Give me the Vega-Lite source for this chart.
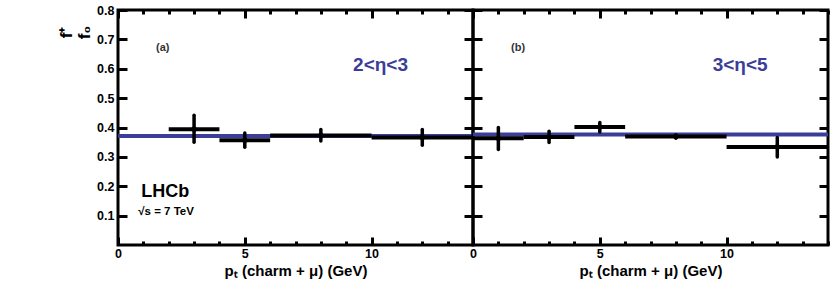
{
  "$schema": "https://vega.github.io/schema/vega-lite/v6.json",
  "padding": {"left": 55, "top": 2, "right": 0, "bottom": 0},
  "spacing": 0,
  "bounds": "flush",
  "datasets": {
    "a": [
      {"lo": 2, "hi": 4, "xc": 3, "y": 0.394, "ylo": 0.350, "yhi": 0.442},
      {"lo": 4, "hi": 6, "xc": 5, "y": 0.357, "ylo": 0.333, "yhi": 0.381},
      {"lo": 6, "hi": 10, "xc": 8, "y": 0.373, "ylo": 0.354, "yhi": 0.393},
      {"lo": 10, "hi": 14, "xc": 12, "y": 0.366, "ylo": 0.340, "yhi": 0.393}
    ],
    "b": [
      {"lo": 0, "hi": 2, "xc": 1, "y": 0.363, "ylo": 0.325, "yhi": 0.400},
      {"lo": 2, "hi": 4, "xc": 3, "y": 0.368, "ylo": 0.349, "yhi": 0.387},
      {"lo": 4, "hi": 6, "xc": 5, "y": 0.402, "ylo": 0.385, "yhi": 0.417},
      {"lo": 6, "hi": 10, "xc": 8, "y": 0.369, "ylo": 0.363, "yhi": 0.375},
      {"lo": 10, "hi": 14, "xc": 12, "y": 0.334, "ylo": 0.300, "yhi": 0.366}
    ]
  },
  "config": {
    "font": "Liberation Sans",
    "view": {"stroke": "black", "strokeWidth": 3},
    "axis": {
      "domain": false,
      "grid": false,
      "tickColor": "black",
      "tickWidth": 3,
      "labelFont": "Liberation Sans",
      "labelFontWeight": "bold",
      "labelFontSize": 12.5,
      "labelColor": "black",
      "labelFlush": false,
      "labelOverlap": false,
      "titleFont": "Liberation Sans",
      "titleColor": "black"
    }
  },
  "hconcat": [
    {
      "width": 355,
      "height": 235,
      "data": {"name": "a"},
      "layer": [
        {
          "data": {"values": [{"fit": 0.371}]},
          "mark": {"type": "rule", "color": "#3b3d98", "strokeWidth": 4},
          "encoding": {
            "y": {"field": "fit", "type": "quantitative", "scale": {"domain": [0, 0.8], "nice": false},
              "axis": {"orient": "left", "values": [0.1, 0.2, 0.3, 0.4, 0.5, 0.6, 0.7, 0.8], "format": ".1f", "tickSize": -9, "labelPadding": 13,
                "title": ["f⁺", "f₀"], "titleAngle": 270, "titleX": -52, "titleY": 22, "titleAlign": "center", "titleBaseline": "middle", "titleFontSize": 17, "titleFontWeight": "bold", "titleLineHeight": 18}}
          }
        },
        {
          "mark": {"type": "rule", "color": "black", "strokeWidth": 4},
          "encoding": {
            "x": {"field": "lo", "type": "quantitative", "scale": {"domain": [0, 14], "nice": false},
              "axis": {"orient": "bottom", "values": [0, 1, 2, 3, 4, 5, 6, 7, 8, 9, 10, 11, 12, 13, 14],
                "tickSize": {"condition": {"test": "datum.value % 5 === 0", "value": -8}, "value": -4},
                "labelExpr": "datum.value % 5 === 0 ? datum.label : ''", "labelPadding": 10,
                "title": "pₜ (charm + μ) (GeV)", "titleFontSize": 15, "titleFontWeight": "bold", "titlePadding": 0}},
            "x2": {"field": "hi"},
            "y": {"field": "y", "type": "quantitative", "scale": {"domain": [0, 0.8], "nice": false},
              "axis": {"orient": "right", "values": [0.1, 0.2, 0.3, 0.4, 0.5, 0.6, 0.7, 0.8], "tickSize": -9, "labels": false, "title": null}}
          }
        },
        {
          "mark": {"type": "rule", "color": "black", "strokeWidth": 3.5, "strokeCap": "round"},
          "encoding": {
            "x": {"field": "xc", "type": "quantitative", "scale": {"domain": [0, 14], "nice": false},
              "axis": {"orient": "top", "values": [0, 1, 2, 3, 4, 5, 6, 7, 8, 9, 10, 11, 12, 13, 14],
                "tickSize": {"condition": {"test": "datum.value % 5 === 0", "value": -8}, "value": -4},
                "labels": false, "title": null}},
            "y": {"field": "ylo", "type": "quantitative", "scale": {"domain": [0, 0.8], "nice": false}, "axis": null},
            "y2": {"field": "yhi"}
          }
        },
        {
          "mark": {"type": "point", "filled": true, "size": 30, "color": "black", "opacity": 1},
          "encoding": {
            "x": {"field": "xc", "type": "quantitative", "axis": null},
            "y": {"field": "y", "type": "quantitative", "axis": null}
          }
        },
        {
          "data": {"values": [{"label": "(a)"}]},
          "mark": {"type": "text", "align": "left", "baseline": "middle", "fontSize": 11, "fontWeight": "bold", "color": "#333333"},
          "encoding": {
            "text": {"field": "label"},
            "x": {"datum": 1.5, "type": "quantitative", "axis": null},
            "y": {"datum": 0.672, "type": "quantitative", "axis": null}
          }
        },
        {
          "data": {"values": [{"label": "2<η<3"}]},
          "mark": {"type": "text", "align": "left", "baseline": "middle", "fontSize": 19, "fontWeight": "bold", "color": "#3b3d98"},
          "encoding": {
            "text": {"field": "label"},
            "x": {"datum": 9.27, "type": "quantitative", "axis": null},
            "y": {"datum": 0.613, "type": "quantitative", "axis": null}
          }
        },
        {
          "data": {"values": [{"label": "LHCb"}]},
          "mark": {"type": "text", "align": "left", "baseline": "middle", "fontSize": 18, "fontWeight": "bold", "color": "black"},
          "encoding": {
            "text": {"field": "label"},
            "x": {"datum": 0.92, "type": "quantitative", "axis": null},
            "y": {"datum": 0.179, "type": "quantitative", "axis": null}
          }
        },
        {
          "data": {"values": [{"label": "√s = 7 TeV"}]},
          "mark": {"type": "text", "align": "left", "baseline": "middle", "fontSize": 11.5, "fontWeight": "bold", "color": "black"},
          "encoding": {
            "text": {"field": "label"},
            "x": {"datum": 0.8, "type": "quantitative", "axis": null},
            "y": {"datum": 0.111, "type": "quantitative", "axis": null}
          }
        }
      ],
      "resolve": {"axis": {"x": "independent", "y": "independent"}}
    },
    {
      "width": 355,
      "height": 235,
      "data": {"name": "b"},
      "layer": [
        {
          "data": {"values": [{"fit": 0.376}]},
          "mark": {"type": "rule", "color": "#3b3d98", "strokeWidth": 4},
          "encoding": {
            "y": {"field": "fit", "type": "quantitative", "scale": {"domain": [0, 0.8], "nice": false},
              "axis": {"orient": "left", "values": [0.1, 0.2, 0.3, 0.4, 0.5, 0.6, 0.7, 0.8], "tickSize": -9, "labels": false, "title": null}}
          }
        },
        {
          "mark": {"type": "rule", "color": "black", "strokeWidth": 4},
          "encoding": {
            "x": {"field": "lo", "type": "quantitative", "scale": {"domain": [0, 14], "nice": false},
              "axis": {"orient": "bottom", "values": [0, 1, 2, 3, 4, 5, 6, 7, 8, 9, 10, 11, 12, 13, 14],
                "tickSize": {"condition": {"test": "datum.value % 5 === 0", "value": -8}, "value": -4},
                "labelExpr": "datum.value % 5 === 0 ? datum.label : ''", "labelPadding": 10,
                "title": "pₜ (charm + μ) (GeV)", "titleFontSize": 15, "titleFontWeight": "bold", "titlePadding": 0}},
            "x2": {"field": "hi"},
            "y": {"field": "y", "type": "quantitative", "scale": {"domain": [0, 0.8], "nice": false},
              "axis": {"orient": "right", "values": [0.1, 0.2, 0.3, 0.4, 0.5, 0.6, 0.7, 0.8], "tickSize": -9, "labels": false, "title": null}}
          }
        },
        {
          "mark": {"type": "rule", "color": "black", "strokeWidth": 3.5, "strokeCap": "round"},
          "encoding": {
            "x": {"field": "xc", "type": "quantitative", "scale": {"domain": [0, 14], "nice": false},
              "axis": {"orient": "top", "values": [0, 1, 2, 3, 4, 5, 6, 7, 8, 9, 10, 11, 12, 13, 14],
                "tickSize": {"condition": {"test": "datum.value % 5 === 0", "value": -8}, "value": -4},
                "labels": false, "title": null}},
            "y": {"field": "ylo", "type": "quantitative", "scale": {"domain": [0, 0.8], "nice": false}, "axis": null},
            "y2": {"field": "yhi"}
          }
        },
        {
          "mark": {"type": "point", "filled": true, "size": 30, "color": "black", "opacity": 1},
          "encoding": {
            "x": {"field": "xc", "type": "quantitative", "axis": null},
            "y": {"field": "y", "type": "quantitative", "axis": null}
          }
        },
        {
          "data": {"values": [{"label": "(b)"}]},
          "mark": {"type": "text", "align": "left", "baseline": "middle", "fontSize": 11, "fontWeight": "bold", "color": "#333333"},
          "encoding": {
            "text": {"field": "label"},
            "x": {"datum": 1.5, "type": "quantitative", "axis": null},
            "y": {"datum": 0.672, "type": "quantitative", "axis": null}
          }
        },
        {
          "data": {"values": [{"label": "3<η<5"}]},
          "mark": {"type": "text", "align": "left", "baseline": "middle", "fontSize": 19, "fontWeight": "bold", "color": "#3b3d98"},
          "encoding": {
            "text": {"field": "label"},
            "x": {"datum": 9.45, "type": "quantitative", "axis": null},
            "y": {"datum": 0.614, "type": "quantitative", "axis": null}
          }
        }
      ],
      "resolve": {"axis": {"x": "independent", "y": "independent"}}
    }
  ]
}
